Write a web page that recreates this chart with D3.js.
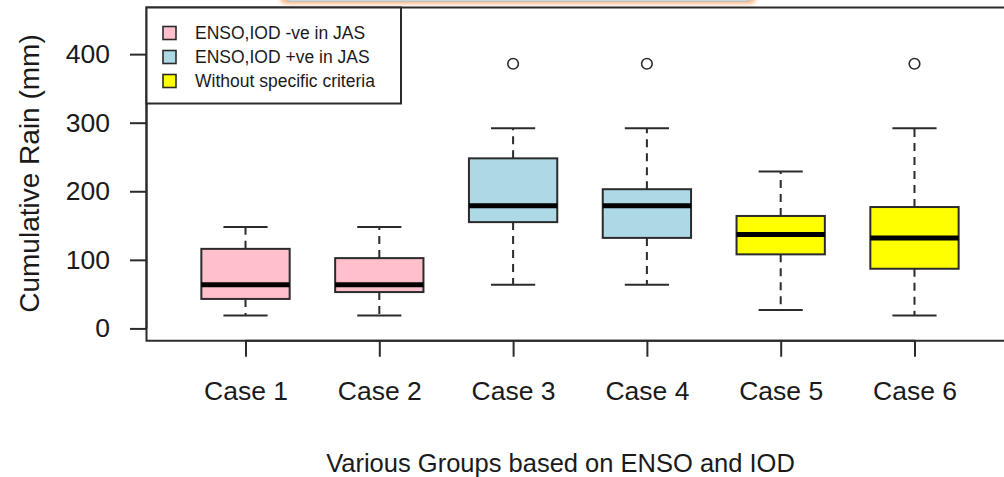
<!DOCTYPE html>
<html>
<head>
<meta charset="utf-8">
<script src="https://cdn.jsdelivr.net/npm/d3@7"></script>
<style>
  html, body { margin: 0; padding: 0; background: #ffffff; }
  svg { display: block; }
  text { font-family: "Liberation Sans", Arial, sans-serif; fill: #1a1a1a; }
</style>
</head>
<body>
<svg id="chart" width="1004" height="477"></svg>
<script>
// Cumulative rain summaries per group (mm)
const categories = ["Case 1", "Case 2", "Case 3", "Case 4", "Case 5", "Case 6"];
const lowerWhisker = [19, 19, 63.5, 63.5, 27, 19];
const q1 = [43, 53, 155, 132, 108, 87];
const median = [63.5, 63.5, 179, 179, 137, 132];
const q3 = [116, 102.5, 248, 203, 164, 177];
const upperWhisker = [148, 148, 292, 292, 229, 292];
const outliers = [[], [], [386], [386], [], [386]];
const groupOf = [0, 0, 1, 1, 2, 2];

const legendLabels = ["ENSO,IOD -ve in JAS", "ENSO,IOD +ve in JAS", "Without specific criteria"];
const groupColors = ["#FFC0CB", "#ADD8E6", "#FFFF00"];
const yTicks = [0, 100, 200, 300, 400];
const yLabel = "Cumulative Rain (mm)";
const xLabel = "Various Groups based on ENSO and IOD";

const svg = d3.select("#chart");
const ink = "#2b2b2b";

// Plot region (ylim 0..450 with 4% padding, x from 0.26 to 6.74)
const plotLeft = 146.5, plotTop = 7.5, plotBottom = 340.75, plotRight = 1013.5;
const y = d3.scaleLinear().domain([-18, 468]).range([plotBottom, plotTop]);
const x = d3.scaleLinear().domain([0.26, 6.74]).range([plotLeft, plotRight]);
const boxHalf = 0.33, capHalf = 0.165;

// Soft highlighted bar peeking in at the top edge
const defs = svg.append("defs");
defs.append("filter").attr("id", "glow").attr("x", "-20%").attr("y", "-200%").attr("width", "140%").attr("height", "500%")
  .append("feGaussianBlur").attr("stdDeviation", 2.2);
svg.append("rect").attr("x", 280).attr("y", -30).attr("width", 476).attr("height", 34).attr("rx", 6)
  .attr("fill", "#f9b88a").attr("filter", "url(#glow)");
svg.append("rect").attr("x", 288).attr("y", -30).attr("width", 460).attr("height", 31)
  .attr("fill", "#eef4f7").attr("stroke", "#9bbcc6").attr("stroke-width", 1);

const data = categories.map((c, i) => ({
  name: c, i: i + 1, lw: lowerWhisker[i], q1: q1[i], med: median[i], q3: q3[i],
  uw: upperWhisker[i], out: outliers[i], color: groupColors[groupOf[i]]
}));

const g = svg.append("g");
const boxes = g.selectAll("g.box").data(data).join("g").attr("class", "box");

// Dashed whiskers
boxes.append("line")
  .attr("x1", d => x(d.i)).attr("x2", d => x(d.i))
  .attr("y1", d => y(d.q3)).attr("y2", d => y(d.uw))
  .attr("stroke", ink).attr("stroke-width", 2).attr("stroke-dasharray", "8,6");
boxes.append("line")
  .attr("x1", d => x(d.i)).attr("x2", d => x(d.i))
  .attr("y1", d => y(d.q1)).attr("y2", d => y(d.lw))
  .attr("stroke", ink).attr("stroke-width", 2).attr("stroke-dasharray", "8,6");

// Staples
["uw", "lw"].forEach(k => {
  boxes.append("line")
    .attr("x1", d => x(d.i - capHalf)).attr("x2", d => x(d.i + capHalf))
    .attr("y1", d => y(d[k])).attr("y2", d => y(d[k]))
    .attr("stroke", ink).attr("stroke-width", 2);
});

// Boxes
boxes.append("rect")
  .attr("x", d => x(d.i - boxHalf)).attr("width", d => x(d.i + boxHalf) - x(d.i - boxHalf))
  .attr("y", d => y(d.q3)).attr("height", d => y(d.q1) - y(d.q3))
  .attr("fill", d => d.color).attr("stroke", ink).attr("stroke-width", 2);

// Medians
boxes.append("line")
  .attr("x1", d => x(d.i - boxHalf)).attr("x2", d => x(d.i + boxHalf))
  .attr("y1", d => y(d.med)).attr("y2", d => y(d.med))
  .attr("stroke", "#000").attr("stroke-width", 5);

// Outliers
boxes.selectAll("circle").data(d => d.out.map(v => ({ i: d.i, v }))).join("circle")
  .attr("cx", d => x(d.i)).attr("cy", d => y(d.v)).attr("r", 5.3)
  .attr("fill", "none").attr("stroke", ink).attr("stroke-width", 1.6);

// Plot frame
svg.append("rect").attr("x", plotLeft).attr("y", plotTop).attr("width", plotRight - plotLeft).attr("height", plotBottom - plotTop)
  .attr("fill", "none").attr("stroke", ink).attr("stroke-width", 2);

// Y axis
const yAxis = d3.axisLeft(y).tickValues(yTicks).tickSize(16.5).tickPadding(20).tickFormat(d3.format("d"));
const yg = svg.append("g").attr("transform", `translate(${plotLeft},0)`).call(yAxis);
yg.select(".domain").attr("d", `M0,${y(0)}V${y(400)}`).attr("stroke", ink).attr("stroke-width", 2);
yg.selectAll(".tick line").attr("stroke", ink).attr("stroke-width", 2);
yg.selectAll(".tick text").attr("font-size", 26.5).attr("font-family", "Liberation Sans, Arial, sans-serif").attr("fill", "#1a1a1a");

// X axis
const xAxis = d3.axisBottom(x).tickValues(d3.range(1, categories.length + 1)).tickSize(16)
  .tickPadding(24).tickFormat(d => categories[d - 1]);
const xg = svg.append("g").attr("transform", `translate(0,${plotBottom})`).call(xAxis);
xg.select(".domain").attr("d", `M${x(1)},0H${x(6)}`).attr("stroke", ink).attr("stroke-width", 2);
xg.selectAll(".tick line").attr("stroke", ink).attr("stroke-width", 2);
xg.selectAll(".tick text").attr("font-size", 26.5).attr("font-family", "Liberation Sans, Arial, sans-serif").attr("fill", "#1a1a1a");

// Axis titles
svg.append("text").attr("x", 560.5).attr("y", 471.5).attr("text-anchor", "middle")
  .attr("font-size", 25.5).text(xLabel);
svg.append("text").attr("transform", "translate(38.5,173.5) rotate(-90)").attr("text-anchor", "middle")
  .attr("font-size", 28).text(yLabel);

// Legend
const lg = svg.append("g");
lg.append("rect").attr("x", plotLeft).attr("y", plotTop).attr("width", 401 - plotLeft).attr("height", 103.5 - plotTop)
  .attr("fill", "#fff").attr("stroke", ink).attr("stroke-width", 2);
const rows = lg.selectAll("g.row").data(legendLabels).join("g").attr("class", "row")
  .attr("transform", (d, i) => `translate(0,${33 + i * 24})`);
rows.append("rect").attr("x", 163).attr("y", -6.5).attr("width", 13).attr("height", 13)
  .attr("fill", (d, i) => groupColors[i]).attr("stroke", ink).attr("stroke-width", 1.6);
rows.append("text").attr("x", 195).attr("y", 0).attr("dy", "0.35em").attr("font-size", 17.5).text(d => d);
</script>
</body>
</html>
